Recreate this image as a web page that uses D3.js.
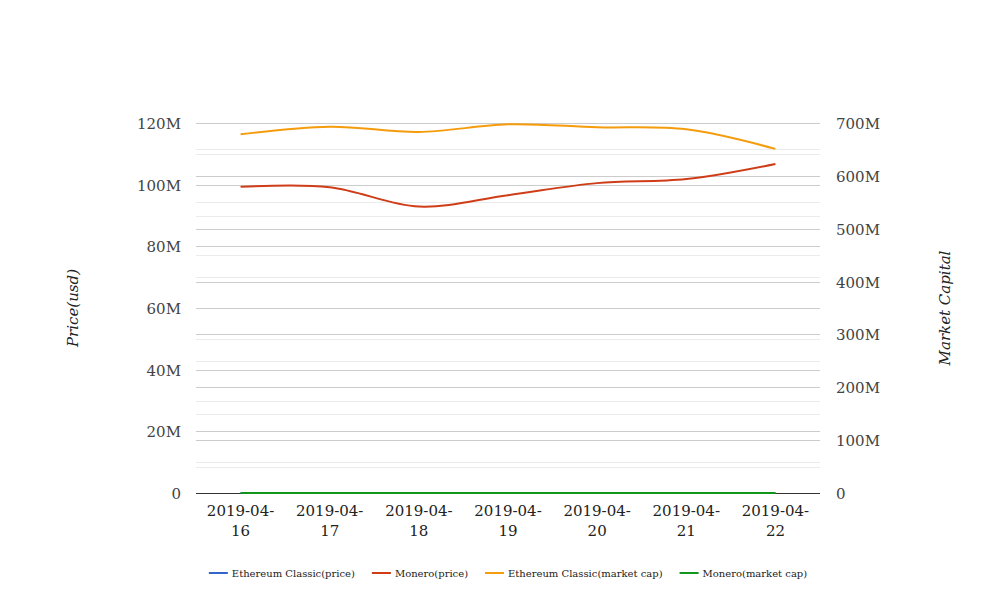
<!DOCTYPE html>
<html>
<head>
<meta charset="utf-8">
<script src="https://cdn.jsdelivr.net/npm/d3@7"></script>
<style>
  body { margin: 0; background: #fff; }
  svg { display: block; }
</style>
</head>
<body>
<svg id="chart"></svg>
<script>
const dates = ["2019-04-16", "2019-04-17", "2019-04-18", "2019-04-19", "2019-04-20", "2019-04-21", "2019-04-22"];

// left axis (price)
const etcPrice = [5.6, 5.5, 5.2, 5.3, 5.4, 5.4, 5.2];
const xmrPrice = [99.3e6, 99.2e6, 92.9e6, 96.6e6, 100.5e6, 101.8e6, 106.7e6];

// right axis (market cap)
const etcCap = [678.6e6, 693e6, 683e6, 697.5e6, 692e6, 688e6, 651e6];
const xmrCap = [68, 69, 66, 67, 68, 68, 66];

const leftTicks = [0, 20e6, 40e6, 60e6, 80e6, 100e6, 120e6];
const rightTicks = [0, 100e6, 200e6, 300e6, 400e6, 500e6, 600e6, 700e6];

const series = [
  { name: "Ethereum Classic(price)", values: etcPrice, axis: "left", color: "#3366cc" },
  { name: "Monero(price)", values: xmrPrice, axis: "left", color: "#cf3d18" },
  { name: "Ethereum Classic(market cap)", values: etcCap, axis: "right", color: "#f59c0c" },
  { name: "Monero(market cap)", values: xmrCap, axis: "right", color: "#109618" }
];

const width = 1008, height = 616;
const margin = { top: 123, right: 188, bottom: 123, left: 196 };
const font = "'DejaVu Serif', serif";

const svg = d3.select("#chart").attr("width", width).attr("height", height);

const x = d3.scaleBand()
  .domain(dates)
  .range([margin.left, width - margin.right]);

const yL = d3.scaleLinear().domain([0, 120e6]).range([height - margin.bottom, margin.top]);
const yR = d3.scaleLinear().domain([0, 700e6]).range([height - margin.bottom, margin.top]);

const fmt = v => v === 0 ? "0" : (v / 1e6) + "M";

const grid = svg.append("g");
// minor gridlines
const minorL = leftTicks.slice(1).map((t, i) => (t + leftTicks[i]) / 2);
const minorR = rightTicks.slice(1).map((t, i) => (t + rightTicks[i]) / 2);
grid.selectAll(".minl").data(minorL).enter().append("line")
  .attr("x1", margin.left).attr("x2", width - margin.right)
  .attr("y1", d => Math.round(yL(d)) + 0.5).attr("y2", d => Math.round(yL(d)) + 0.5)
  .attr("stroke", "#ebebeb");
grid.selectAll(".minr").data(minorR).enter().append("line")
  .attr("x1", margin.left).attr("x2", width - margin.right)
  .attr("y1", d => Math.round(yR(d)) + 0.5).attr("y2", d => Math.round(yR(d)) + 0.5)
  .attr("stroke", "#ebebeb");
// major gridlines
grid.selectAll(".majl").data(leftTicks.slice(1)).enter().append("line")
  .attr("x1", margin.left).attr("x2", width - margin.right)
  .attr("y1", d => Math.round(yL(d)) + 0.5).attr("y2", d => Math.round(yL(d)) + 0.5)
  .attr("stroke", "#cccccc");
grid.selectAll(".majr").data(rightTicks.slice(1)).enter().append("line")
  .attr("x1", margin.left).attr("x2", width - margin.right)
  .attr("y1", d => Math.round(yR(d)) + 0.5).attr("y2", d => Math.round(yR(d)) + 0.5)
  .attr("stroke", "#cccccc");

// left axis labels
svg.append("g").selectAll("text").data(leftTicks).enter().append("text")
  .attr("x", margin.left - 15)
  .attr("y", d => yL(d) + 6)
  .attr("text-anchor", "end")
  .style("font-family", font).style("font-size", "15px").attr("fill", "#444")
  .text(fmt);

// right axis labels
svg.append("g").selectAll("text").data(rightTicks).enter().append("text")
  .attr("x", width - margin.right + 16)
  .attr("y", d => yR(d) + 6)
  .attr("text-anchor", "start")
  .style("font-family", font).style("font-size", "15px").attr("fill", "#444")
  .text(fmt);

// x labels, two lines
const xl = svg.append("g").selectAll("text").data(dates).enter().append("text")
  .attr("x", d => x(d) + x.bandwidth() / 2)
  .attr("y", height - margin.bottom + 23)
  .attr("text-anchor", "middle")
  .style("font-family", font).style("font-size", "15px").attr("fill", "#222");
xl.append("tspan").attr("x", d => x(d) + x.bandwidth() / 2).text(d => d.slice(0, 8));
xl.append("tspan").attr("x", d => x(d) + x.bandwidth() / 2).attr("dy", 20).text(d => d.slice(8));

// axis titles
svg.append("text")
  .attr("transform", `translate(78,${(margin.top + height - margin.bottom) / 2}) rotate(-90)`)
  .attr("text-anchor", "middle")
  .style("font-family", font).style("font-size", "15px").style("font-style", "italic")
  .attr("fill", "#222")
  .text("Price(usd)");

svg.append("text")
  .attr("transform", `translate(950,${(margin.top + height - margin.bottom) / 2}) rotate(-90)`)
  .attr("text-anchor", "middle")
  .style("font-family", font).style("font-size", "15px").style("font-style", "italic")
  .attr("fill", "#222")
  .text("Market Capital");

// baseline
svg.append("line")
  .attr("x1", margin.left).attr("x2", width - margin.right)
  .attr("y1", height - margin.bottom + 0.5).attr("y2", height - margin.bottom + 0.5)
  .attr("stroke", "#333");

// lines
series.forEach(s => {
  const yS = s.axis === "left" ? yL : yR;
  const line = d3.line()
    .x((d, i) => x(dates[i]) + x.bandwidth() / 2)
    .y(d => yS(d))
    .curve(d3.curveCatmullRom.alpha(0.5));
  svg.append("path")
    .datum(s.values)
    .attr("fill", "none")
    .attr("stroke", s.color)
    .attr("stroke-width", 2)
    .attr("d", line);
});

// legend
const legend = svg.append("g");
let lx = 0;
series.forEach(s => {
  const g = legend.append("g").attr("transform", `translate(${lx},0)`);
  g.append("line").attr("x1", 0).attr("x2", 19).attr("y1", 0).attr("y2", 0)
    .attr("stroke", s.color).attr("stroke-width", 2);
  const t = g.append("text").attr("x", 23).attr("y", 4)
    .style("font-family", font).style("font-size", "10px").attr("fill", "#222")
    .text(s.name);
  lx += 23 + t.node().getComputedTextLength() + 17;
});
const total = lx - 17;
const cx = (margin.left + width - margin.right) / 2;
legend.attr("transform", `translate(${cx - total / 2},573)`);
</script>
</body>
</html>
